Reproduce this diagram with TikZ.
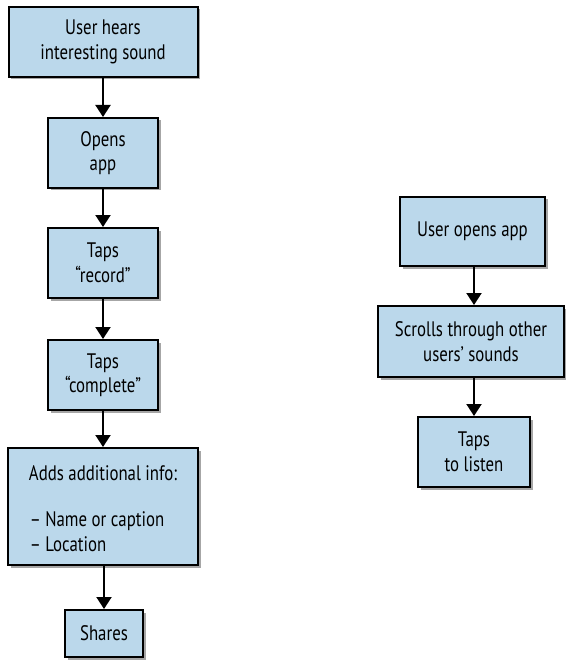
\documentclass[tikz,border=0pt]{standalone}
\usepackage{fontspec}
\setmainfont[FakeStretch=0.8]{PT Sans}
\usetikzlibrary{arrows.meta,shadows}
\definecolor{boxblue}{RGB}{187,216,235}
\tikzset{
  flowbox/.style={draw=black, line width=2pt, fill=boxblue, align=center,
    inner sep=0pt, font=\fontsize{21}{24.5}\selectfont,
    drop shadow={shadow xshift=2.5pt, shadow yshift=-2.5pt, fill=black, opacity=0.35}},
  flowarrow/.style={line width=2pt, -{Triangle[width=15pt,length=12pt]}}
}
\begin{document}
\begin{tikzpicture}[x=1pt,y=-1pt]
\useasboundingbox (0,0) rectangle (565,660);
\node[flowbox, minimum width=189pt, minimum height=70pt] (a1) at (103,42) {User hears\\interesting sound};
\node[flowbox, minimum width=110pt, minimum height=70pt] (a2) at (103,153) {Opens\\app};
\node[flowbox, minimum width=110pt, minimum height=70pt] (a3) at (103,263) {Taps\\“record”};
\node[flowbox, minimum width=110pt, minimum height=70pt] (a4) at (103,375) {Taps\\“complete”};
\node[flowbox, minimum width=190pt, minimum height=117pt] (a5) at (103,506.5) {\rule{0pt}{26pt}Adds additional info:\\[28pt]\begin{tabular}{@{}l@{}}– Name or caption\\– Location\end{tabular}\hspace*{12pt}};
\node[flowbox, minimum width=78pt, minimum height=47pt] (a6) at (104,633.5) {Shares};
\node[flowbox, minimum width=145pt, minimum height=69pt] (b1) at (472.5,231.5) {User opens app};
\node[flowbox, minimum width=186pt, minimum height=71pt] (b2) at (471,341.5) {Scrolls through other\\users’ sounds};
\node[flowbox, minimum width=112pt, minimum height=70pt] (b3) at (474,452) {Taps\\to listen};
\draw[flowarrow] (a1) -- (a2);
\draw[flowarrow] (a2) -- (a3);
\draw[flowarrow] (a3) -- (a4);
\draw[flowarrow] (a4) -- (a5);
\draw[flowarrow] (a5.south -| a6) -- (a6);
\draw[flowarrow] (b1.south -| b3) -- (b3.north |- b2.north);
\draw[flowarrow] (b2.south -| b3) -- (b3);
\end{tikzpicture}
\end{document}
